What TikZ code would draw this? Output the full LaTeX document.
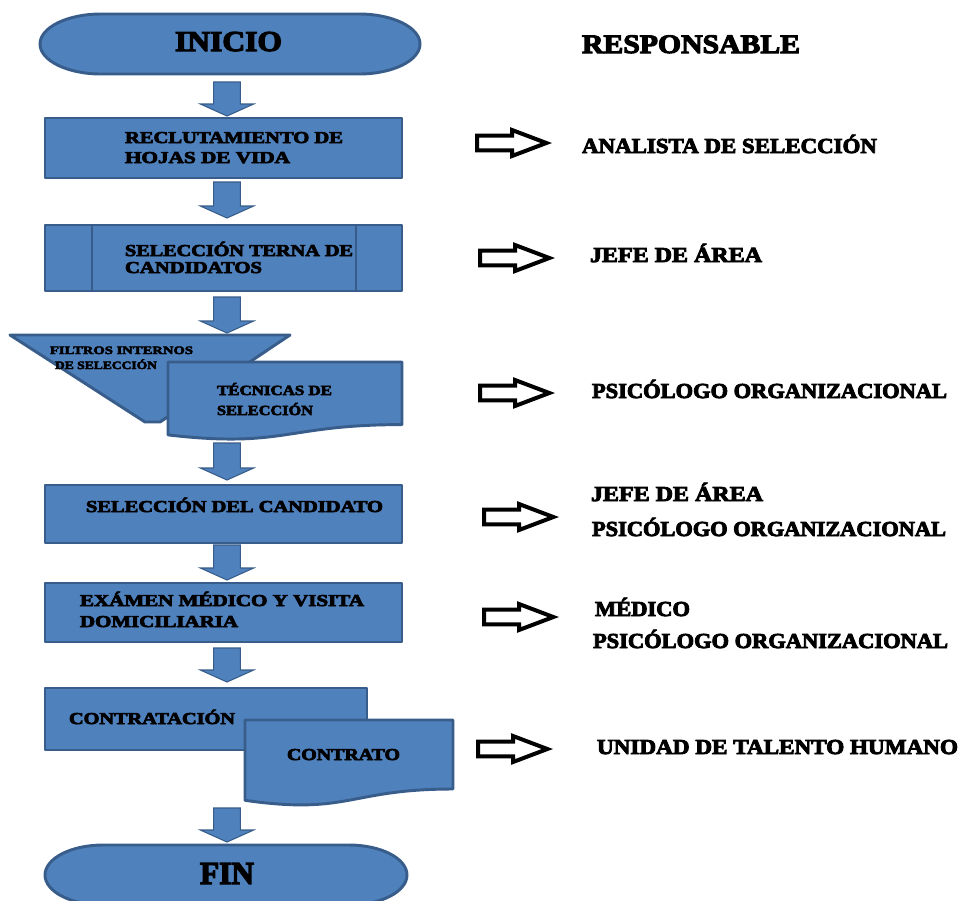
\documentclass[tikz,border=0pt]{standalone}
\usepackage{fontspec}
\setmainfont{Liberation Serif}
\newfontfamily\hv{Liberation Serif Bold}[FakeBold=4]
\usetikzlibrary{calc,fit}
\newdimen\pxu \pxu=0.75pt
\newcommand\fw[2]{\resizebox{#1\pxu}{\height}{#2}}
\definecolor{bl}{HTML}{4F81BD}
\definecolor{bdr}{HTML}{385D8A}
\tikzset{
  shp/.style={draw=bdr, fill=bl, line width=2.2pt, line join=round},
  box/.style={shp, inner sep=0pt, outer sep=0pt},
  ghost/.style={inner sep=0pt, outer sep=0pt},
  txt/.style={anchor=base west, inner sep=0pt, outer sep=0pt, text=black},
  fbig/.style={font=\hv\fontsize{21.6}{24}\selectfont},
  ffin/.style={font=\hv\fontsize{24}{26}\selectfont},
  fresp/.style={font=\hv\fontsize{20}{22}\selectfont},
  fright/.style={font=\hv\fontsize{16}{18}\selectfont},
  fbox/.style={font=\hv\fontsize{12.5}{14}\selectfont},
  fmid/.style={font=\hv\fontsize{10.5}{12}\selectfont},
  fsmall/.style={font=\hv\fontsize{8.5}{10}\selectfont},
  blk/.style={fill=bl, draw=bdr, line width=0.8pt, line join=miter},
  oar/.style={draw=black, fill=white, line width=3pt, line join=miter},
}
% block arrow from #1 (top) to #2 (tip)
\newcommand\barrow[2]{\path[blk] let \p1=(#1), \p2=(#2) in
  (\x1-10pt,\y1) -- (\x1+10pt,\y1) -- (\x1+10pt,\y2+9pt) -- (\x1+20pt,\y2+9pt)
  -- (\x1,\y2) -- (\x1-20pt,\y2+9pt) -- (\x1-10pt,\y2+9pt) -- cycle;}
% outline arrow, #1 = left middle point
\newcommand\oarrow[1]{\path[oar] let \p1=(#1) in
  (\x1,\y1+5.6pt) -- (\x1+26.25pt,\y1+5.6pt) -- (\x1+26.25pt,\y1+9.75pt)
  -- (\x1+52pt,\y1) -- (\x1+26.25pt,\y1-9.75pt) -- (\x1+26.25pt,\y1-5.6pt)
  -- (\x1,\y1-5.6pt) -- cycle;}
\begin{document}
\begin{tikzpicture}[x=0.75pt,y=-0.75pt]
\useasboundingbox (0,0) rectangle (959,900);
\fill[white] (0,0) rectangle (959,900);

% ---------- INICIO ----------
\node[ghost, fit={(40,14) (420,74)}] (start) {};
\path[shp] (101,14) -- (359,14) arc[start angle=90, end angle=-90, x radius=45.75pt, y radius=22.5pt]
  -- (101,74) arc[start angle=270, end angle=90, x radius=45.75pt, y radius=22.5pt] -- cycle;
\node[txt, fbig] (tstart) at (175,51) {\fw{107}{INICIO}};

% ---------- box 1 ----------
\node[box, fit={(45,118) (402,178)}] (b1) {};
\node[txt, fbox] (t1a) at (125,143) {\fw{218}{RECLUTAMIENTO DE}};
\node[txt, fbox] (t1b) at (125,163) {\fw{165}{HOJAS DE VIDA}};

% ---------- box 2 (predefined process) ----------
\node[box, fit={(45,225) (402,291)}] (b2) {};
\draw[bdr, line width=2.2pt] (92,225) -- (92,291) (356,225) -- (356,291);
\node[txt, fbox] (t2a) at (125,256) {\fw{228}{SELECCIÓN TERNA DE}};
\node[txt, fbox] (t2b) at (125,273) {\fw{137}{CANDIDATOS}};

% ---------- manual operation ----------
\node[ghost, fit={(10,335) (290,422)}] (filt) {};
\path[shp] (10,335) -- (290,335) -- (160,422) -- (145,422) -- cycle;
\node[txt, fsmall] (tf1) at (50,354) {\fw{143}{FILTROS INTERNOS}};
\node[txt, fsmall] (tf2) at (55,369) {\fw{102}{DE SELECCIÓN}};

% ---------- document: técnicas ----------
\node[ghost, fit={(168,362) (402,435)}] (tec) {};
\path[shp] (168,362) -- (402,362) -- (402,424.6)
  .. controls (285,424.6) and (285,448.4) .. (168,434.9) -- cycle;
\node[txt, fmid] (tt1) at (217,395) {\fw{115}{TÉCNICAS DE}};
\node[txt, fmid] (tt2) at (217,415) {\fw{96}{SELECCIÓN}};

% ---------- box 4 ----------
\node[box, fit={(45,485) (402,543)}] (b4) {};
\node[txt, fbox] (t4) at (86,512) {\fw{297}{SELECCIÓN DEL CANDIDATO}};

% ---------- box 5 ----------
\node[box, fit={(45,583) (402,642)}] (b5) {};
\node[txt, fbox] (t5a) at (80,606) {\fw{284}{EXÁMEN MÉDICO Y VISITA}};
\node[txt, fbox] (t5b) at (80,627) {\fw{158}{DOMICILIARIA}};

% ---------- box 6 ----------
\node[box, fit={(45,688) (367,750)}] (b6) {};
\node[txt, fbox] (t6) at (69,724) {\fw{166}{CONTRATACIÓN}};

% ---------- document: contrato ----------
\node[ghost, fit={(245,720) (453,800)}] (con) {};
\path[shp] (245,720) -- (453,720) -- (453,789)
  .. controls (349,789) and (349,815.2) .. (245,800.3) -- cycle;
\node[txt, fbox] (tc) at (287,760) {\fw{113}{CONTRATO}};

% ---------- FIN ----------
\node[ghost, fit={(45,845) (407,905)}] (fin) {};
\path[shp] (103,845) -- (349,845) arc[start angle=90, end angle=-90, x radius=43.5pt, y radius=22.5pt]
  -- (103,905) arc[start angle=270, end angle=90, x radius=43.5pt, y radius=22.5pt] -- cycle;
\node[txt, ffin] (tfin) at (200,884) {\fw{54}{FIN}};

% ---------- block arrows ----------
\barrow{$(b1.north |- start.south)+(3.5,8)$}{$(b1.north)+(3.5,-2)$}
\barrow{$(b1.south)+(3.5,4)$}{$(b2.north)+(3.5,-7)$}
\barrow{$(b2.south)+(3.5,6)$}{$(b2.south |- filt.north)+(3.5,-2)$}
\barrow{$(b4.north |- tec.south)+(3.5,8)$}{$(b4.north)+(3.5,-5)$}
\barrow{$(b4.south)+(3.5,2)$}{$(b5.north)+(3.5,-3)$}
\barrow{$(b5.south)+(3.5,6)$}{$(b6.north)+(3.5,-6)$}
\barrow{$(fin.north |- con.south)+(1,8)$}{$(fin.north)+(1,-3)$}

% ---------- right column ----------
\node[txt, fresp] (resp) at (582,53) {\fw{218}{RESPONSABLE}};

\coordinate (o1) at (477,143);
\coordinate (o2) at (480,258);
\coordinate (o3) at (480,393);
\coordinate (o4) at (484,517);
\coordinate (o5) at (484,617);
\coordinate (o6) at (478,749);
\oarrow{o1}\oarrow{o2}\oarrow{o3}\oarrow{o4}\oarrow{o5}\oarrow{o6}

\node[txt, fright] (r1) at (582,153) {\fw{295}{ANALISTA DE SELECCIÓN}};
\node[txt, fright] (r2) at (590,262) {\fw{172}{JEFE DE ÁREA}};
\node[txt, fright] (r3) at (592,398) {\fw{355}{PSICÓLOGO ORGANIZACIONAL}};
\node[txt, fright] (r4a) at (591,501) {\fw{172}{JEFE DE ÁREA}};
\node[txt, fright] (r4b) at (592,536) {\fw{354}{PSICÓLOGO ORGANIZACIONAL}};
\node[txt, fright] (r5a) at (595,616) {\fw{95}{MÉDICO}};
\node[txt, fright] (r5b) at (593,648) {\fw{355}{PSICÓLOGO ORGANIZACIONAL}};
\node[txt, fright] (r6) at (597,754) {\fw{361}{UNIDAD DE TALENTO HUMANO}};
\end{tikzpicture}
\end{document}
